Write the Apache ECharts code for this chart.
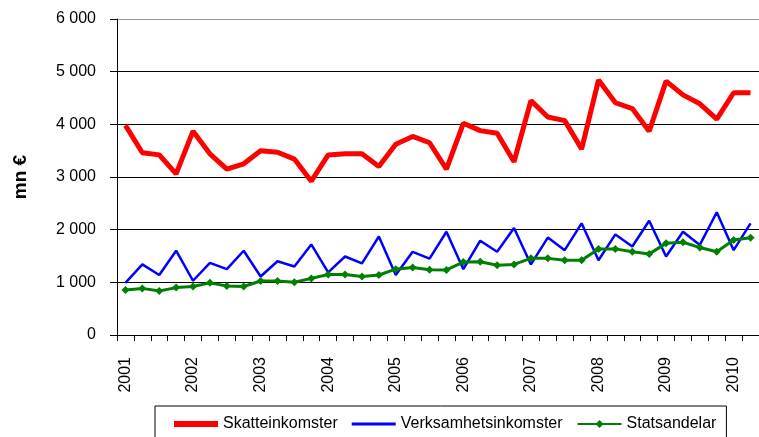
<!DOCTYPE html>
<html><head><meta charset="utf-8">
<script src="https://cdn.jsdelivr.net/npm/echarts@6/dist/echarts.min.js"></script>
<style>html,body{margin:0;padding:0;background:#fff}#c{width:759px;height:437px}</style>
</head><body><div id="c"></div>
<script>
const years = ['2001','2002','2003','2004','2005','2006','2007','2008','2009','2010'];
const quarterLabels = [];
years.forEach(function(y){ for (let q=1;q<=4;q++){ if (quarterLabels.length<38) quarterLabels.push(q===1?y:''); } });
const skatteinkomster = [3980,3460,3420,3060,3870,3440,3150,3250,3500,3470,3340,2920,3420,3440,3440,3200,3620,3770,3650,3150,4020,3880,3830,3290,4450,4140,4070,3530,4840,4410,4300,3870,4820,4560,4390,4100,4600,4600];
const verksamhetsinkomster = [990,1340,1140,1600,1030,1370,1250,1600,1110,1400,1300,1720,1190,1490,1360,1870,1140,1580,1450,1960,1250,1790,1580,2030,1340,1850,1610,2120,1420,1910,1680,2170,1490,1960,1710,2330,1610,2120];
const statsandelar = [855,885,835,900,920,990,930,920,1025,1025,1000,1075,1150,1150,1110,1140,1250,1280,1240,1235,1385,1390,1325,1340,1455,1455,1420,1420,1635,1635,1580,1540,1740,1760,1660,1580,1805,1845];
const yTicks = [0,1000,2000,3000,4000,5000,6000];

const FONT = 'Liberation Sans, Arial, sans-serif';
const chart = echarts.init(document.getElementById('c'));
chart.setOption({
  animation:false,
  textStyle:{fontFamily:FONT},
  grid:{left:117, top:19, right:-8, bottom:102},
  legend:{
    left:155, top:406,
    padding:[10,10,20,19],
    borderColor:'#000', borderWidth:1, borderRadius:0,
    itemWidth:44, itemHeight:10, itemGap:14,
    symbolKeepAspect:true,
    textStyle:{fontSize:16, color:'#000', fontFamily:FONT},
    data:[
      {name:'Skatteinkomster', icon:'path://M0,0H44V6H0Z'},
      {name:'Verksamhetsinkomster', icon:'path://M0,0H44V3H0Z'},
      {name:'Statsandelar'}
    ]
  },
  xAxis:{
    type:'category', data:quarterLabels, boundaryGap:true,
    axisLine:{lineStyle:{color:'#000', width:1}},
    axisTick:{show:true, interval:0, length:6, lineStyle:{color:'#000'}},
    axisLabel:{interval:0, rotate:90, margin:22, fontSize:16, color:'#000'},
    splitLine:{show:false}
  },
  yAxis:{
    type:'value', min:yTicks[0], max:yTicks[yTicks.length-1], interval:1000,
    name:'mn €', nameLocation:'middle', nameGap:87, nameRotate:90,
    nameTextStyle:{fontSize:19, fontWeight:'bold', color:'#000'},
    axisLine:{show:true, lineStyle:{color:'#000', width:1}},
    axisTick:{show:true, length:7, lineStyle:{color:'#000'}},
    axisLabel:{fontSize:16, color:'#000', margin:21,
      formatter:function(v){ return String(v).replace(/\B(?=(\d{3})+(?!\d))/g,' '); }},
    splitLine:{show:true, lineStyle:{color:['#000','#000','#000','#000','#000','#000','#999'], width:1}}
  },
  series:[
    {name:'Skatteinkomster', type:'line', data:skatteinkomster, symbol:'none',
     lineStyle:{color:'#ff0000', width:5}, itemStyle:{color:'#ff0000'}},
    {name:'Verksamhetsinkomster', type:'line', data:verksamhetsinkomster, symbol:'none',
     lineStyle:{color:'#0000ff', width:2.5}, itemStyle:{color:'#0000ff'}},
    {name:'Statsandelar', type:'line', data:statsandelar, symbol:'diamond', symbolSize:8,
     lineStyle:{color:'#008000', width:3}, itemStyle:{color:'#008000'}}
  ]
});
</script></body></html>
